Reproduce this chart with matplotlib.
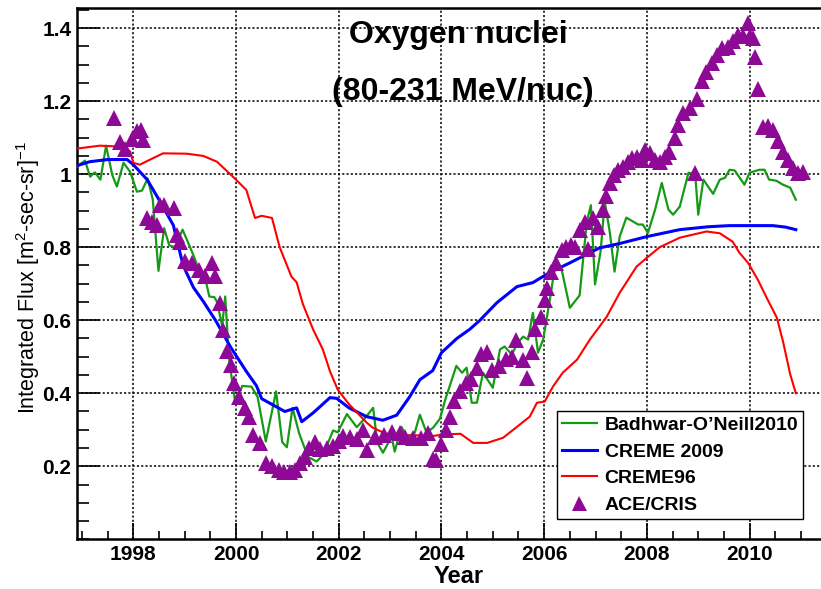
import matplotlib

matplotlib.use("Agg")

import matplotlib.pyplot as plt
from matplotlib.ticker import MultipleLocator

plt.rcParams["font.family"] = ["Liberation Sans", "DejaVu Sans"]
plt.rcParams["mathtext.fontset"] = "custom"
plt.rcParams["mathtext.rm"] = "Liberation Sans"
plt.rcParams["mathtext.it"] = "Liberation Sans:italic"
plt.rcParams["mathtext.bf"] = "Liberation Sans:bold"

# Badhwar-O'Neill 2010 model
bon_year = [
    1996.9, 1997.06, 1997.16, 1997.25, 1997.36, 1997.47, 1997.59, 1997.68, 1997.81, 1997.94,
    1998.07, 1998.17, 1998.28, 1998.38, 1998.49, 1998.6, 1998.7, 1998.81, 1998.96, 1999.15,
    1999.28, 1999.38, 1999.48, 1999.58, 1999.63, 1999.73, 1999.79, 1999.86, 1999.92, 1999.99,
    2000.12, 2000.3, 2000.42, 2000.58, 2000.78, 2000.9, 2000.99, 2001.1, 2001.23, 2001.4,
    2001.57, 2001.7, 2001.89, 2001.98, 2002.16, 2002.35, 2002.5, 2002.67, 2002.75, 2002.86,
    2003.03, 2003.09, 2003.22, 2003.34, 2003.48, 2003.58, 2003.71, 2003.84, 2003.97, 2004.08,
    2004.29, 2004.4, 2004.49, 2004.59, 2004.69, 2004.81, 2005.0, 2005.14, 2005.23, 2005.37,
    2005.49, 2005.59, 2005.69, 2005.78, 2005.88, 2005.98, 2006.11, 2006.21, 2006.34, 2006.5,
    2006.69, 2006.83, 2006.91, 2006.99, 2007.1, 2007.18, 2007.28, 2007.37, 2007.47, 2007.6,
    2007.83, 2007.92, 2008.02, 2008.16, 2008.29, 2008.42, 2008.51, 2008.64, 2008.81, 2008.94,
    2009.0, 2009.1, 2009.29, 2009.42, 2009.52, 2009.61, 2009.71, 2009.9, 2010.0, 2010.19,
    2010.29, 2010.38, 2010.52, 2010.65, 2010.79, 2010.9,
]
bon_flux = [
    1.02, 1.037, 0.993, 1.005, 0.985, 1.078, 0.998, 0.966, 1.031, 1.006,
    0.952, 0.955, 0.988, 0.93, 0.735, 0.852, 0.805, 0.800, 0.848, 0.785,
    0.738, 0.728, 0.665, 0.663, 0.65, 0.585, 0.665, 0.50, 0.437, 0.37,
    0.42, 0.418, 0.39, 0.268, 0.405, 0.266, 0.252, 0.36, 0.29, 0.226,
    0.213, 0.232, 0.298, 0.293, 0.343, 0.307, 0.33, 0.36, 0.265, 0.237,
    0.281, 0.24, 0.308, 0.278, 0.292, 0.341, 0.292, 0.306, 0.33, 0.385,
    0.475, 0.456, 0.47, 0.374, 0.374, 0.456, 0.415, 0.52, 0.528, 0.506,
    0.539, 0.555, 0.547, 0.62, 0.511, 0.547, 0.656, 0.747, 0.739, 0.634,
    0.668, 0.87, 0.915, 0.698, 0.79, 0.925, 0.839, 0.733, 0.829, 0.881,
    0.862, 0.862, 0.839, 0.903, 0.976, 0.903, 0.889, 0.911, 1.004, 1.0,
    0.889, 0.985, 0.946, 0.985, 0.99, 1.012, 1.01, 0.971, 1.004, 1.012,
    1.012, 0.985, 0.982, 0.971, 0.963, 0.93,
]

# CREME 2009 model
creme09_year = [
    1996.9, 1997.15, 1997.5, 1997.88, 1998.0, 1998.27, 1998.5, 1998.78, 1998.97, 1999.17,
    1999.37, 1999.6, 1999.9, 2000.2, 2000.4, 2000.5, 2000.72, 2000.95, 2001.18, 2001.28,
    2001.5, 2001.83, 2001.96, 2002.2, 2002.54, 2002.86, 2003.13, 2003.38, 2003.58, 2003.83,
    2004.0, 2004.3, 2004.55, 2004.75, 2005.08, 2005.47, 2005.78, 2006.1, 2006.5, 2006.89,
    2007.08, 2007.47, 2008.0, 2008.64, 2009.2, 2009.61, 2010.45, 2010.7, 2010.9,
]
creme09_flux = [
    1.023, 1.034, 1.040, 1.040, 1.026, 0.985, 0.93, 0.86, 0.75, 0.69,
    0.65, 0.60, 0.525, 0.46, 0.42, 0.385, 0.368, 0.350, 0.360, 0.322,
    0.346, 0.388, 0.386, 0.360, 0.336, 0.326, 0.340, 0.39, 0.437, 0.462,
    0.511, 0.55, 0.575, 0.60, 0.648, 0.692, 0.703, 0.73, 0.757, 0.785,
    0.798, 0.81, 0.829, 0.848, 0.856, 0.859, 0.859, 0.855, 0.848,
]

# CREME96 model
creme96_year = [
    1996.9, 1997.35, 1997.8, 1997.94, 1998.0, 1998.13, 1998.33, 1998.58, 1999.04, 1999.36,
    1999.63, 1999.94, 2000.2, 2000.37, 2000.5, 2000.7, 2000.85, 2001.08, 2001.18, 2001.3,
    2001.5, 2001.69, 2001.83, 2001.98, 2002.2, 2002.54, 2002.66, 2002.9, 2003.2, 2003.5,
    2003.78, 2004.04, 2004.37, 2004.62, 2004.89, 2005.2, 2005.47, 2005.72, 2005.86, 2006.01,
    2006.17, 2006.36, 2006.64, 2006.89, 2007.08, 2007.22, 2007.47, 2007.8, 2008.0, 2008.25,
    2008.64, 2009.16, 2009.42, 2009.67, 2009.8, 2009.97, 2010.16, 2010.33, 2010.53, 2010.65,
    2010.79, 2010.9,
]
creme96_flux = [
    1.07, 1.078, 1.075, 1.062, 1.031, 1.026, 1.040, 1.057, 1.056, 1.050,
    1.034, 0.993, 0.957, 0.88, 0.886, 0.880, 0.80, 0.719, 0.704, 0.645,
    0.575, 0.52, 0.46, 0.41, 0.37, 0.32, 0.306, 0.29, 0.285, 0.285,
    0.282, 0.287, 0.289, 0.264, 0.264, 0.278, 0.308, 0.336, 0.374, 0.377,
    0.418, 0.456, 0.492, 0.547, 0.583, 0.61, 0.675, 0.747, 0.771, 0.80,
    0.826, 0.843, 0.838, 0.815, 0.785, 0.757, 0.711, 0.662, 0.607, 0.542,
    0.452, 0.40,
]

# ACE/CRIS measurements
ace_year = [
    1997.62, 1997.74, 1997.84, 1997.97, 1998.08, 1998.15, 1998.19, 1998.27, 1998.37, 1998.46,
    1998.52, 1998.6, 1998.79, 1998.85, 1998.91, 1999.01, 1999.14, 1999.28, 1999.39, 1999.53,
    1999.6, 1999.68, 1999.75, 1999.82, 1999.9, 1999.97, 2000.05, 2000.17, 2000.26, 2000.34,
    2000.47, 2000.58, 2000.7, 2000.83, 2000.94, 2001.05, 2001.14, 2001.24, 2001.34, 2001.43,
    2001.53, 2001.63, 2001.77, 2001.89, 2002.0, 2002.09, 2002.22, 2002.35, 2002.48, 2002.56,
    2002.71, 2002.88, 2003.03, 2003.19, 2003.3, 2003.45, 2003.6, 2003.73, 2003.83, 2003.9,
    2004.0, 2004.08, 2004.16, 2004.25, 2004.36, 2004.47, 2004.57, 2004.7, 2004.77, 2004.88,
    2004.99, 2005.12, 2005.25, 2005.37, 2005.45, 2005.58, 2005.66, 2005.77, 2005.82, 2005.93,
    2006.01, 2006.06, 2006.14, 2006.24, 2006.34, 2006.43, 2006.52, 2006.6, 2006.69, 2006.79,
    2006.86, 2006.95, 2007.05, 2007.15, 2007.2, 2007.28, 2007.35, 2007.44, 2007.54, 2007.63,
    2007.71, 2007.8, 2007.9, 2007.97, 2008.06, 2008.15, 2008.25, 2008.35, 2008.44, 2008.54,
    2008.61, 2008.7, 2008.83, 2008.93, 2008.97, 2009.07, 2009.16, 2009.27, 2009.37, 2009.47,
    2009.57, 2009.67, 2009.77, 2009.87, 2009.97, 2010.01, 2010.06, 2010.1, 2010.16, 2010.26,
    2010.36, 2010.45, 2010.55, 2010.65, 2010.75, 2010.84, 2010.94, 2011.03,
]
ace_flux = [
    1.154, 1.087, 1.07, 1.097, 1.117, 1.121, 1.094, 0.881, 0.87, 0.862,
    0.916, 0.916, 0.908, 0.834, 0.815, 0.762, 0.757, 0.738, 0.72, 0.757,
    0.72, 0.648, 0.574, 0.517, 0.476, 0.428, 0.39, 0.36, 0.335, 0.285,
    0.265, 0.21, 0.202, 0.19, 0.184, 0.184, 0.19, 0.21, 0.226, 0.25,
    0.266, 0.246, 0.249, 0.255, 0.27, 0.284, 0.28, 0.276, 0.30, 0.245,
    0.28, 0.285, 0.295, 0.29, 0.28, 0.277, 0.278, 0.29, 0.22, 0.218,
    0.262, 0.30, 0.335, 0.378, 0.405, 0.428, 0.44, 0.47, 0.508, 0.514,
    0.465, 0.475, 0.495, 0.50, 0.545, 0.49, 0.443, 0.514, 0.577, 0.61,
    0.656, 0.689, 0.733, 0.757, 0.793, 0.80, 0.806, 0.80, 0.848, 0.87,
    0.796, 0.88, 0.856, 0.903, 0.939, 0.976, 0.998, 1.012, 1.02, 1.034,
    1.045, 1.048, 1.04, 1.067, 1.059, 1.04, 1.034, 1.048, 1.061, 1.10,
    1.135, 1.168, 1.18, 1.004, 1.207, 1.255, 1.28, 1.305, 1.325, 1.345,
    1.348, 1.365, 1.38, 1.377, 1.415, 1.377, 1.374, 1.32, 1.233, 1.128,
    1.133, 1.12, 1.09, 1.062, 1.04, 1.018, 1.004, 1.007,
]

x_ticks = [1998, 2000, 2002, 2004, 2006, 2008, 2010]
y_ticks = [0.2, 0.4, 0.6, 0.8, 1.0, 1.2, 1.4]
y_tick_labels = ["0.2", "0.4", "0.6", "0.8", "1", "1.2", "1.4"]

GREEN = "#159a15"
BLUE = "#0000ff"
RED = "#ff0000"
PURPLE = "#8e0a96"

fig = plt.figure(figsize=(8.21, 5.89), dpi=100)
ax = fig.add_axes([77 / 821, 1 - 539.3 / 589, 744 / 821, 531.3 / 589])

ax.plot(bon_year, bon_flux, color=GREEN, lw=1.6, label="Badhwar-O\u2019Neill2010", zorder=3)
ax.plot(creme09_year, creme09_flux, color=BLUE, lw=2.2, label="CREME 2009", zorder=3)
ax.plot(creme96_year, creme96_flux, color=RED, lw=1.5, label="CREME96", zorder=3)
ax.plot(ace_year, ace_flux, ls="none", marker="^", ms=12, color=PURPLE,
        markeredgewidth=0, label="ACE/CRIS", zorder=4)

ax.set_xlim(1996.904, 2011.39)
ax.set_ylim(0, 1.455)
ax.set_xticks(x_ticks)
ax.set_xticklabels([str(t) for t in x_ticks])
ax.set_yticks(y_ticks)
ax.set_yticklabels(y_tick_labels)
ax.xaxis.set_minor_locator(MultipleLocator(0.5))
ax.yaxis.set_minor_locator(MultipleLocator(0.05))

ax.tick_params(axis="x", which="major", direction="in", length=11.5, width=1.2,
               pad=4, labelsize=15)
ax.tick_params(axis="x", which="minor", direction="in", length=5.8, width=1.2)
ax.tick_params(axis="y", which="major", direction="in", length=16.5, width=1.2,
               pad=4, labelsize=15)
ax.tick_params(axis="y", which="minor", direction="in", length=8.8, width=1.2)
for lab in ax.get_xticklabels() + ax.get_yticklabels():
    lab.set_fontweight("bold")

ax.grid(True, which="major", color="black", lw=1.1, ls=(0, (1.4, 1.4)))
ax.set_axisbelow(True)

for side in ("left", "bottom", "top"):
    ax.spines[side].set_linewidth(1.8)
ax.spines["right"].set_visible(False)

fig.text(458 / 821, 1 - 43.3 / 589, "Oxygen nuclei", fontsize=23,
         fontweight="bold", ha="center", va="baseline")
fig.text(463 / 821, 1 - 100 / 589, "(80-231 MeV/nuc)", fontsize=23,
         fontweight="bold", ha="center", va="baseline")
fig.text(459 / 821, 1 - 583.3 / 589, "Year", fontsize=17,
         fontweight="bold", ha="center", va="baseline")
fig.text(28 / 821, 1 - 277.5 / 589, r"Integrated Flux [m$^{2}$-sec-sr]$^{-1}$",
         fontsize=15.5, rotation=90, ha="center", va="center")

leg = ax.legend(loc="lower left", bbox_to_anchor=(556.7 / 821, 1 - 518.7 / 589),
                bbox_transform=fig.transFigure, borderaxespad=0, fancybox=False,
                framealpha=1, edgecolor="black", handlelength=1.8,
                handletextpad=0.4, borderpad=0.26, labelspacing=0.46,
                markerscale=0.9, prop={"weight": "bold", "size": 14})
leg.get_frame().set_linewidth(1.0)

fig.savefig("out.png", dpi=100)
